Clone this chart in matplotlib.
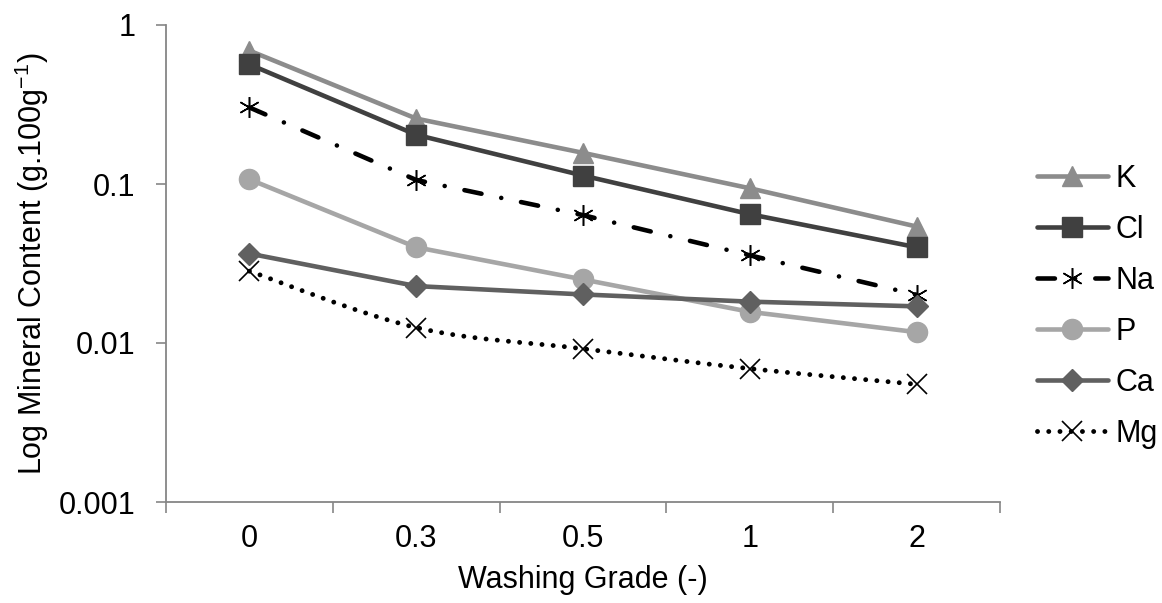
import matplotlib
matplotlib.use("Agg")
import matplotlib.pyplot as plt
from matplotlib.path import Path
from matplotlib.patches import PathPatch
from matplotlib.lines import Line2D
from matplotlib.transforms import IdentityTransform
import numpy as np

plt.rcParams['font.family'] = ['Liberation Sans', 'DejaVu Sans']
plt.rcParams['mathtext.fontset'] = 'custom'
plt.rcParams['mathtext.rm'] = 'Liberation Sans'
plt.rcParams['mathtext.it'] = 'Liberation Sans:italic'
plt.rcParams['axes.unicode_minus'] = False

categories = ["0", "0.3", "0.5", "1", "2"]
K = [0.69, 0.258, 0.157, 0.094, 0.054]
Cl = [0.565, 0.204, 0.113, 0.0646, 0.040]
Na = [0.303, 0.106, 0.0637, 0.0356, 0.0201]
P = [0.107, 0.040, 0.0251, 0.0157, 0.0117]
Ca = [0.0365, 0.0228, 0.0202, 0.0182, 0.0170]
Mg = [0.0283, 0.0125, 0.0092, 0.0069, 0.0055]

FS = 22
fig = plt.figure(figsize=(11.62, 6.03), dpi=100)
ax = fig.add_axes([166/1162, 1-502/603, (1000-166)/1162, (502-25)/603])

ax.set_yscale('log')
ax.set_ylim(0.001, 1)
ax.set_xlim(0, 5)

x = np.arange(len(categories)) + 0.5
lw = 3.3
ax.plot(x, K, color='#8c8c8c', lw=lw, marker='^', ms=14, label='K', solid_capstyle='round')
ax.plot(x, Cl, color='#404040', lw=lw, marker='s', ms=14, label='Cl', solid_capstyle='round')
ax.plot(x, Na, color='black', lw=lw, marker=(6, 2, 0), ms=15, mew=1.1,
        linestyle=(0, (3.8, 4.4, 0.01, 4.4)), dash_capstyle='round', label='Na')
ax.plot(x, P, color='#a6a6a6', lw=lw, marker='o', ms=14.5, label='P', solid_capstyle='round')
ax.plot(x, Ca, color='#606060', lw=lw, marker='D', ms=11, label='Ca', solid_capstyle='round')

# Mg: smoothed line (Excel-style), markers from data
mg_lw = 3.5
mg_ls = (0, (0.01, 2.3))
ax.plot(x, Mg, color='black', lw=0, marker='x', ms=14, mew=1.2, zorder=3)
pts = ax.transData.transform(np.column_stack([x, Mg]))
verts = [pts[0]]
codes = [Path.MOVETO]
n = len(pts)
for i in range(n - 1):
    p0 = pts[max(i - 1, 0)]
    p1 = pts[i]
    p2 = pts[i + 1]
    p3 = pts[min(i + 2, n - 1)]
    c1 = p1 + (p2 - p0) / 6.0
    c2 = p2 - (p3 - p1) / 6.0
    verts += [c1, c2, p2]
    codes += [Path.CURVE4] * 3
patch = PathPatch(Path(verts, codes), facecolor='none', edgecolor='black', lw=mg_lw,
                  linestyle=mg_ls, transform=IdentityTransform())
patch.set_capstyle('round')
ax.add_patch(patch)

ax.set_yticks([0.001, 0.01, 0.1, 1])
ax.set_yticklabels(['0.001', '0.01', '0.1', '1'])
ax.yaxis.set_minor_locator(matplotlib.ticker.NullLocator())
ax.set_xticks(np.arange(6))
ax.set_xticklabels([])
ax.set_xticks(x, minor=True)
ax.set_xticklabels(categories, minor=True)
ax.tick_params(axis='x', which='minor', length=0, pad=16, labelsize=FS)
ax.tick_params(axis='x', which='major', length=8, width=1.2, color='#868686', direction='out')
ax.tick_params(axis='y', which='major', length=7, width=1.2, color='#868686', direction='out',
               labelsize=FS, pad=15)

for s in ['top', 'right']:
    ax.spines[s].set_visible(False)
for s in ['left', 'bottom']:
    ax.spines[s].set_color('#868686')
    ax.spines[s].set_linewidth(1.3)

ax.set_xlabel('Washing Grade (-)', fontsize=FS, labelpad=8)
ax.set_ylabel('Log Mineral Content (g.100g$^{-1}$)', fontsize=FS)
ax.yaxis.set_label_coords(-0.138, 0.5)

handles, labels = ax.get_legend_handles_labels()
handles.append(Line2D([], [], color='black', lw=mg_lw, linestyle=mg_ls, dash_capstyle='round',
                      marker='x', ms=14, mew=1.2))
labels.append('Mg')
leg = ax.legend(handles, labels, loc='center left', bbox_to_anchor=(1.044, 0.41), frameon=False,
                fontsize=FS, handlelength=2.33, handletextpad=0.25, labelspacing=0.69,
                borderpad=0, borderaxespad=0)

fig.savefig('out.png', dpi=100)
